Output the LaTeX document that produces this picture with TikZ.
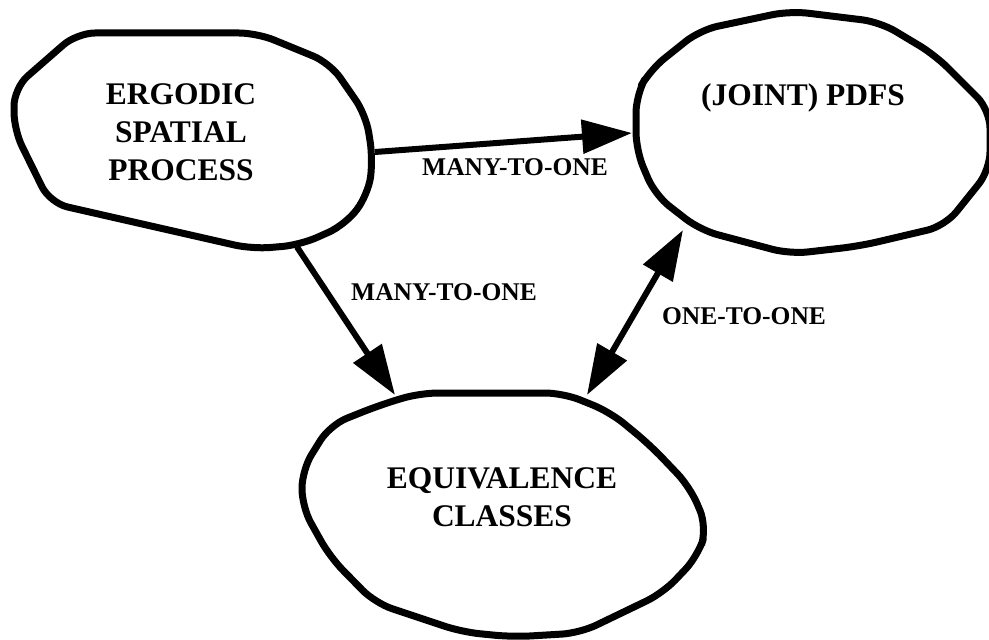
\documentclass[tikz,border=0pt]{standalone}
\usepackage{fontspec}
\setmainfont{Liberation Serif}
\usetikzlibrary{arrows.meta}
\tikzset{
  blob/.style={line width=7bp, rounded corners=18bp, line join=round},
  conn/.style={line width=6bp, -{Triangle[length=50bp,width=33bp]}},
  bigtext/.style={font=\fontsize{31.6}{38}\selectfont\bfseries, align=center, inner sep=0pt},
  smalltext/.style={font=\fontsize{25.6}{30}\selectfont\bfseries, inner sep=0pt}
}
\begin{document}
\begin{tikzpicture}[x=1bp,y=-1bp]
\useasboundingbox (0,0) rectangle (989,640);
% blob: ergodic spatial process
\draw[blob] (77,33) -- (257,33) -- (330,63) -- (366,115) -- (373,160) -- (368,195) -- (345,225) -- (300,245) -- (252,249) -- (50,203) -- (14,130) -- (14,88) -- cycle;
% blob: joint pdfs
\draw[blob] (700,30) -- (790,11) -- (880,22) -- (935,55) -- (990,110) -- (990,170) -- (945,226) -- (860,246) -- (790,254) -- (700,230) -- (655,195) -- (636,150) -- (636,95) -- (650,70) -- cycle;
% blob: equivalence classes
\draw[blob] (420,393) -- (563,393) -- (610,412) -- (650,445) -- (690,487) -- (707,527) -- (698,556) -- (663,593) -- (580,633) -- (513,637) -- (462,632) -- (375,603) -- (330,557) -- (302,507) -- (302,470) -- (330,425) -- (380,405) -- cycle;
% texts
\node[bigtext] (esp) at (181,132.5) {ERGODIC\\SPATIAL\\PROCESS};
\node[bigtext] (pdf) at (803,98) {(JOINT) PDFS};
\node[bigtext] (eqc) at (502,497) {EQUIVALENCE\\CLASSES};
% connector end points on the blob outlines
\coordinate (espR) at (375,152);
\coordinate (pdfL) at (632,133);
\coordinate (espB) at (297,247);
\coordinate (eqcT) at (395,395);
\coordinate (eqcTR) at (587,395);
\coordinate (pdfBL) at (683,230);
% connectors
\draw[conn] (espR) -- (pdfL);
\draw[conn] (espB) -- (eqcT);
\draw[conn, {Triangle[length=50bp,width=33bp]}-{Triangle[length=50bp,width=33bp]}] (eqcTR) -- (pdfBL);
% labels
\node[smalltext] (l1) at (515,167) {MANY-TO-ONE};
\node[smalltext] (l2) at (444,292) {MANY-TO-ONE};
\node[smalltext] (l3) at (744,316) {ONE-TO-ONE};
\end{tikzpicture}
\end{document}
